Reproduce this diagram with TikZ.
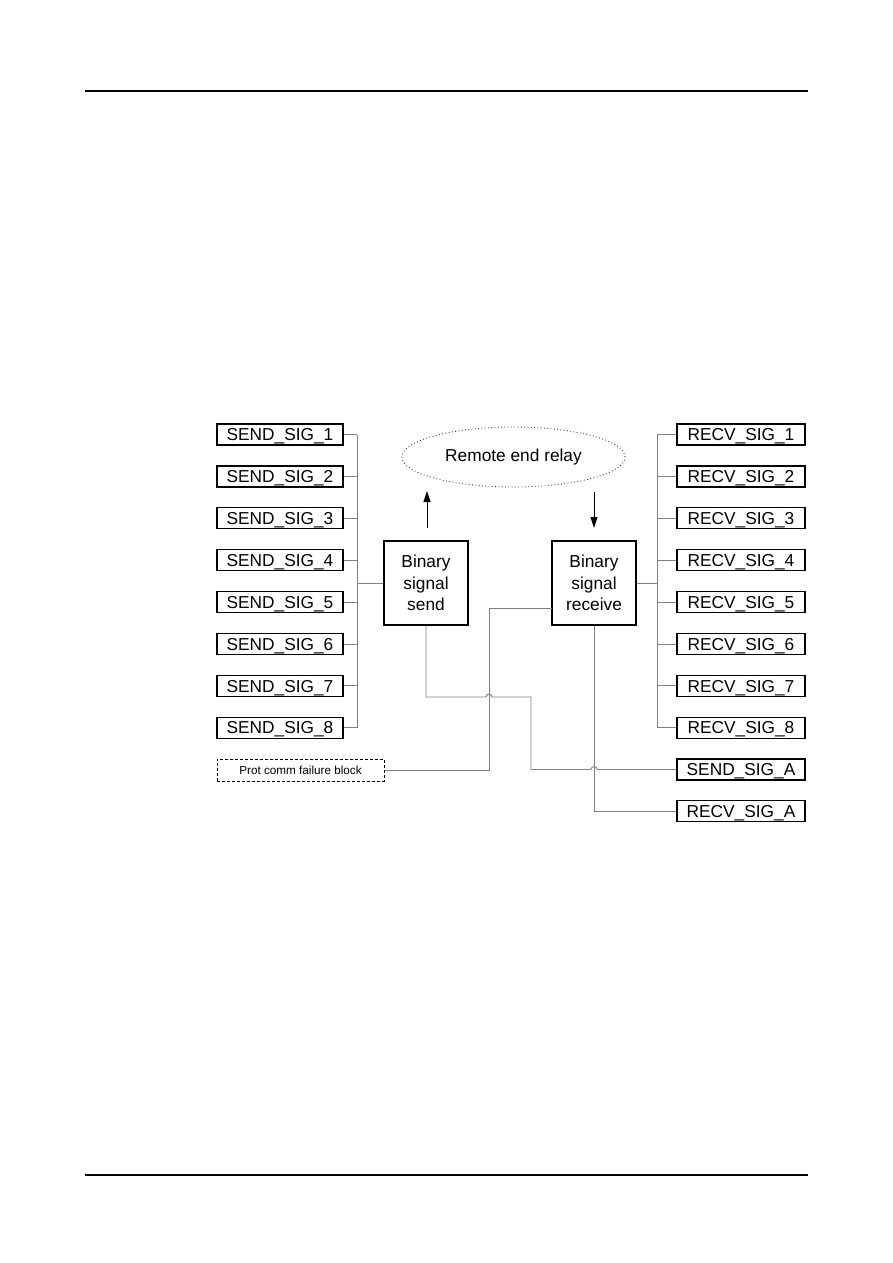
\documentclass[tikz,border=0pt]{standalone}
\usepackage{fontspec}
\setmainfont{Liberation Sans}
\usetikzlibrary{shapes.geometric,arrows.meta,calc}
\begin{document}
\begin{tikzpicture}[x=1pt,y=-1pt,
  sigbox/.style={draw=black,line width=1.2pt,rectangle,inner sep=0pt,minimum height=21pt,text height=12.2pt,text depth=0pt,font=\fontsize{17.3}{20}\selectfont},
  sendbox/.style={sigbox,minimum width=126pt},
  recvbox/.style={sigbox,minimum width=128pt},
  mainbox/.style={draw=black,line width=1.2pt,rectangle,inner sep=0pt,minimum width=84pt,minimum height=84pt,align=center,font=\fontsize{17.3}{21.5}\selectfont},
  conn/.style={draw=black!50,line width=0.9pt},
  arr/.style={line width=1pt,-{Triangle[length=11pt,width=7pt]}},
  rulebar/.style={line width=2pt,black}
]
\useasboundingbox (0,0) rectangle (893,1263);
% page rules
\coordinate (tl) at (85,91); \coordinate (tr) at (808,91);
\coordinate (bl) at (85,1175); \coordinate (br) at (808,1175);
\draw[rulebar] (tl) -- (tr);
\draw[rulebar] (bl) -- (br);

% left signal boxes
\foreach \i in {1,...,8}{
  \node[sendbox] (s\i) at (280,{434.5+41.9*(\i-1)}) {SEND\_SIG\_\i};
}
% right signal boxes
\foreach \i in {1,...,8}{
  \node[recvbox] (r\i) at (741,{434.5+41.9*(\i-1)}) {RECV\_SIG\_\i};
}
\node[recvbox] (sA) at (741,769.5) {SEND\_SIG\_A};
\node[recvbox] (rA) at (741,811) {RECV\_SIG\_A};

\node[draw=black,line width=1pt,dash pattern=on 3pt off 2pt,rectangle,inner sep=0pt,minimum width=167pt,minimum height=22pt,font=\fontsize{11.7}{14}\selectfont] (prot) at (300.5,770) {Prot comm failure block};

% main boxes
\node[mainbox] (bsend) at (426,583) {Binary\\signal\\send};
\node[mainbox] (brecv) at (594,583) {Binary\\signal\\receive};

% remote end relay
\node[ellipse,draw=black!75,line width=0.9pt,dash pattern=on 0.9pt off 2.4pt,minimum width=223pt,minimum height=60pt,inner sep=0pt,font=\fontsize{17.3}{20}\selectfont] (remote) at (513.5,457) {Remote end relay};

% arrows
\coordinate (ua0) at (427,528); \coordinate (ua1) at (427,491);
\coordinate (da0) at (594,492); \coordinate (da1) at (594,528);
\draw[arr] (ua0) -- (ua1);
\draw[arr] (da0) -- (da1);

% left bus
\coordinate (lbus) at (357,0);
\foreach \i in {1,...,8}{
  \draw[conn] (s\i.east) -- (s\i.east -| lbus);
}
\draw[conn] (s1.east -| lbus) -- (s8.east -| lbus);
\draw[conn] (bsend.west) -- (bsend.west -| lbus);

% right bus
\coordinate (rbus) at (657,0);
\foreach \i in {1,...,8}{
  \draw[conn] (r\i.west) -- (r\i.west -| rbus);
}
\draw[conn] (r1.west -| rbus) -- (r8.west -| rbus);
\draw[conn] (brecv.east) -- (brecv.east -| rbus);

% prot comm failure block to receive
\coordinate (px) at (489,608);
\coordinate (pin) at (552,608);
\draw[conn] (prot.east) -| (px) -- (pin);

% send output to SEND_SIG_A with hops
\coordinate (k1) at (426,697);
\coordinate (k2) at (531,697);
\draw[conn] (bsend.south) -- (k1) -- (486,697) arc[start angle=180,end angle=0,radius=3pt] -- (k2) -- (531,769.5) -- (591,769.5) arc[start angle=180,end angle=0,radius=3pt] -- (sA.west);

% receive output to RECV_SIG_A
\draw[conn] (brecv.south) |- (rA.west);
\end{tikzpicture}
\end{document}
